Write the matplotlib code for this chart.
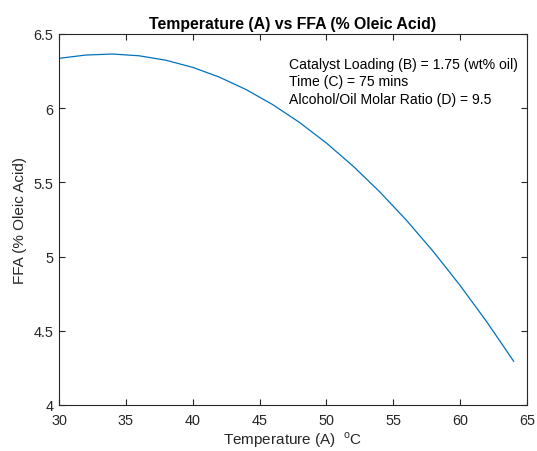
import matplotlib
matplotlib.use("Agg")
import matplotlib.pyplot as plt

# Predicted FFA response over temperature, other factors held fixed
temperature = [30, 32, 34, 36, 38, 40, 42, 44, 46, 48, 50, 52, 54, 56, 58, 60, 62, 64]
ffa = [6.336, 6.358, 6.365, 6.353, 6.323, 6.275, 6.209, 6.125, 6.023, 5.903,
       5.765, 5.609, 5.435, 5.243, 5.033, 4.805, 4.559, 4.295]

x_ticks = [30, 35, 40, 45, 50, 55, 60, 65]
y_ticks = [4, 4.5, 5, 5.5, 6, 6.5]
y_tick_labels = ["4", "4.5", "5", "5.5", "6", "6.5"]

conditions = [
    "Catalyst Loading (B) = 1.75 (wt% oil)",
    "Time (C) = 75 mins",
    "Alcohol/Oil Molar Ratio (D) = 9.5",
]

plt.rcParams["font.family"] = ["Liberation Sans", "DejaVu Sans"]
plt.rcParams["mathtext.fontset"] = "custom"
plt.rcParams["mathtext.rm"] = "Liberation Sans"

axis_color = "#262626"
line_color = "#0072BD"

fig = plt.figure(figsize=(5.37, 4.52), dpi=100)
ax = fig.add_axes([0.1099, 0.1018, 0.8715, 0.8208])

ax.plot(temperature, ffa, color=line_color, linewidth=0.9)

ax.set_xlim(30, 65)
ax.set_ylim(4, 6.5)
ax.set_xticks(x_ticks)
ax.set_yticks(y_ticks)
ax.set_yticklabels(y_tick_labels)

ax.tick_params(direction="in", length=4.5, width=0.8, top=True, right=True,
               colors=axis_color, labelsize=10.4)
ax.tick_params(axis="x", pad=6)
ax.tick_params(axis="y", pad=4)
for spine in ax.spines.values():
    spine.set_color(axis_color)
    spine.set_linewidth(0.8)

ax.set_title("Temperature (A) vs FFA (% Oleic Acid)", fontsize=11.4,
             fontweight="bold", color="black", pad=4)
ax.set_xlabel("Temperature (A)  $^{\\mathrm{o}}$C", fontsize=11,
              color=axis_color, labelpad=1.5)
ax.set_ylabel("FFA (% Oleic Acid)", fontsize=11, color=axis_color, labelpad=5)

ax.text(47.2, 6.345, "\n".join(conditions), fontsize=10.1, color="black",
        va="top", ha="left", linespacing=1.3)

fig.savefig("out.png", dpi=100)
